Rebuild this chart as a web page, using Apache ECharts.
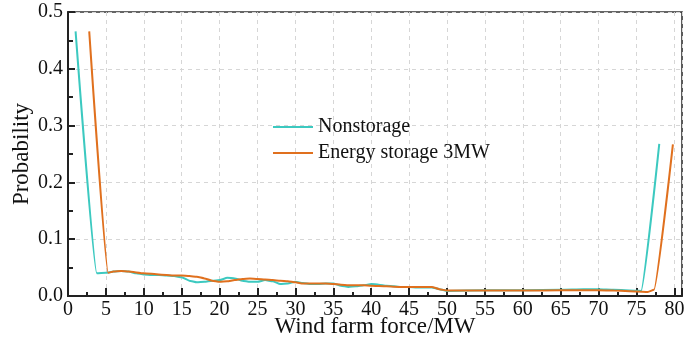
<!DOCTYPE html>
<html>
<head>
<meta charset="utf-8">
<script src="https://cdn.jsdelivr.net/npm/echarts@6/dist/echarts.min.js"></script>
<style>
  html, body { margin: 0; padding: 0; background: #fff; }
  #chart { width: 686px; height: 349px; }
</style>
</head>
<body>
<div id="chart"></div>
<script>
// Wind farm output (MW) vs probability
const seriesNames = ['Nonstorage', 'Energy storage 3MW'];

const nonstorage = [
  [1, 0.466], [3.8, 0.040], [5, 0.041], [6, 0.043], [7, 0.044], [8, 0.043], [9, 0.040],
  [10, 0.038], [11, 0.037], [12, 0.037], [13, 0.036], [14, 0.035], [15, 0.033],
  [16, 0.027], [17, 0.024], [18, 0.025], [19, 0.027], [20, 0.028], [21, 0.032],
  [22, 0.031], [23, 0.027], [24, 0.025], [25, 0.025], [26, 0.028], [27, 0.026],
  [28, 0.021], [29, 0.022], [30, 0.025], [31, 0.023], [32, 0.021], [33, 0.021],
  [34, 0.022], [35, 0.022], [36, 0.018], [37, 0.016], [38, 0.017], [39, 0.019],
  [40, 0.021], [41, 0.020], [42, 0.018], [43, 0.017], [44, 0.016], [45, 0.016],
  [46, 0.015], [47, 0.015], [48, 0.015], [49, 0.012], [50, 0.009], [55, 0.010],
  [60, 0.010], [65, 0.011], [68, 0.012], [70, 0.012], [72, 0.011], [75, 0.0093],
  [75.6, 0.009], [78, 0.268]
];

const storage3MW = [
  [2.8, 0.466], [5.3, 0.041], [6, 0.043], [7, 0.044], [8, 0.043], [10, 0.040],
  [12, 0.038], [14, 0.036], [15, 0.036], [16, 0.035], [17, 0.034], [18, 0.031],
  [19, 0.027], [20, 0.025], [21, 0.026], [22, 0.028], [23, 0.030], [24, 0.031],
  [25, 0.030], [26, 0.029], [27, 0.028], [28, 0.027], [29, 0.026], [30, 0.024],
  [31, 0.022], [32, 0.022], [33, 0.022], [34, 0.022], [35, 0.021], [36, 0.020],
  [37, 0.019], [38, 0.019], [39, 0.019], [40, 0.018], [42, 0.017], [44, 0.016],
  [46, 0.016], [47, 0.016], [48, 0.016], [49, 0.012], [50, 0.0095], [52, 0.0095],
  [55, 0.0095], [60, 0.0098], [65, 0.0100], [70, 0.0100], [72, 0.0095], [75, 0.0078],
  [76.5, 0.0072], [77.3, 0.011], [79.8, 0.267]
];

const xTickStep = 5;
const yTickStep = 0.1;

const serif = '"Liberation Serif", "Times New Roman", serif';
const chart = echarts.init(document.getElementById('chart'));

chart.setOption({
  animation: false,
  backgroundColor: '#fff',
  color: ['#3cc9c0', '#e0701e'],
  grid: {
    left: 68, right: 4, top: 12, bottom: 53,
    containLabel: false, outerBoundsMode: 'none',
    show: true, borderColor: '#333', borderWidth: 1.6, backgroundColor: 'transparent'
  },
  legend: {
    orient: 'vertical',
    left: 268, top: 112,
    itemWidth: 40, itemHeight: 2, itemGap: 6,
    icon: 'rect',
    itemStyle: { borderWidth: 0 },
    textStyle: { fontFamily: serif, fontSize: 20, color: '#111', lineHeight: 20 },
    data: seriesNames
  },
  xAxis: {
    type: 'value',
    min: 0, max: 81, interval: xTickStep,
    name: 'Wind farm force/MW',
    nameLocation: 'middle', nameGap: 19, nameMoveOverlap: false,
    nameTextStyle: { fontFamily: serif, fontSize: 23, color: '#111', verticalAlign: 'top' },
    axisLine: { show: true, onZero: false, lineStyle: { color: '#222', width: 2 } },
    axisTick: { show: true, inside: true, length: 8, lineStyle: { color: '#222', width: 2 } },
    minorTick: { show: true, splitNumber: 2, length: 4, lineStyle: { color: '#222', width: 2 } },
    axisLabel: {
      fontFamily: serif, fontSize: 20, color: '#111', margin: 4,
      showMaxLabel: false,
      formatter: v => (v % xTickStep === 0 ? String(v) : '')
    },
    splitLine: { show: true, lineStyle: { color: '#d6d6d6', type: [4, 4], width: 1 } }
  },
  yAxis: {
    type: 'value',
    min: 0, max: 0.5, interval: yTickStep,
    name: 'Probability',
    nameLocation: 'middle', nameGap: 35, nameMoveOverlap: false,
    nameTextStyle: { fontFamily: serif, fontSize: 23, color: '#111' },
    axisLine: { show: true, lineStyle: { color: '#222', width: 2 } },
    axisTick: { show: true, inside: true, length: 7, lineStyle: { color: '#222', width: 2 } },
    minorTick: { show: true, splitNumber: 2, length: 5, lineStyle: { color: '#222', width: 2 } },
    axisLabel: {
      fontFamily: serif, fontSize: 20, color: '#111', margin: 5,
      formatter: v => v.toFixed(1)
    },
    splitLine: { show: true, lineStyle: { color: '#d6d6d6', type: [4, 4], width: 1 } }
  },
  series: [
    {
      name: seriesNames[0], type: 'line', data: nonstorage,
      symbol: 'none', smooth: 0.15, smoothMonotone: 'x',
      lineStyle: { width: 2 }
    },
    {
      name: seriesNames[1], type: 'line', data: storage3MW,
      symbol: 'none', smooth: 0.15, smoothMonotone: 'x',
      lineStyle: { width: 2 }
    }
  ]
});
</script>
</body>
</html>
